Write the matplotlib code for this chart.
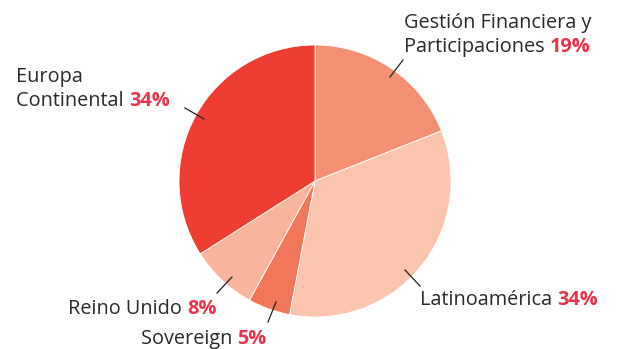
# Pie chart of business areas with two-tone labels (name + bold percentage)

import matplotlib
matplotlib.use("Agg")
import matplotlib.pyplot as plt

# --- Data ---
areas = ["Gestión Financiera y\nParticipaciones", "Latinoamérica", "Sovereign",
         "Reino Unido", "Europa\nContinental"]
shares = [19, 34, 5, 8, 34]
colors = ["#F39074", "#FAC4AF", "#F27659", "#F8B49C", "#EE3E34"]

# label anchor (left edge, baseline of last line) and leader line ends, in pixels from top-left
label_pos = [(404, 52), (420, 305), (141, 344), (68, 314), (16, 106)]
leaders = [((390, 77), (403, 60)), ((405, 270), (420, 286)), ((268, 322), (276, 302)),
           ((217, 293), (232, 277)), ((185, 108), (204, 119))]

W, H = 617, 349
plt.rcParams["font.family"] = ["Open Sans", "DejaVu Sans"]

fig = plt.figure(figsize=(W / 100, H / 100), dpi=100)
ax = fig.add_axes([0, 0, 1, 1])

ax.pie(shares, colors=colors, startangle=90, counterclock=False,
       center=(315, H - 181), radius=136, frame=True,
       wedgeprops=dict(edgecolor="white", linewidth=0.6))
ax.set_xlim(0, W)
ax.set_ylim(0, H)
ax.set_aspect("equal")
ax.axis("off")

txt_color = "#2a2a2a"
pct_color = "#E8354B"
fs = 14.3

fig.canvas.draw()
renderer = fig.canvas.get_renderer()
inv = ax.transData.inverted()

for name, val, (lx, ly), (p0, p1) in zip(areas, shares, label_pos, leaders):
    ax.plot([p0[0], p1[0]], [H - p0[1], H - p1[1]], color="#222222", lw=0.9)
    lines = name.split("\n")
    last = lines[-1]
    if len(lines) > 1:
        ax.text(lx, H - ly + 24, lines[0], fontsize=fs, color=txt_color,
                ha="left", va="baseline")
    t = ax.text(lx, H - ly, last + " ", fontsize=fs, color=txt_color,
                ha="left", va="baseline")
    bb = t.get_window_extent(renderer=renderer)
    x_end = inv.transform((bb.x1, bb.y0))[0]
    ax.text(x_end, H - ly, f"{val}%", fontsize=fs, color=pct_color,
            fontweight="bold", ha="left", va="baseline")

fig.savefig("out.png", dpi=100)
